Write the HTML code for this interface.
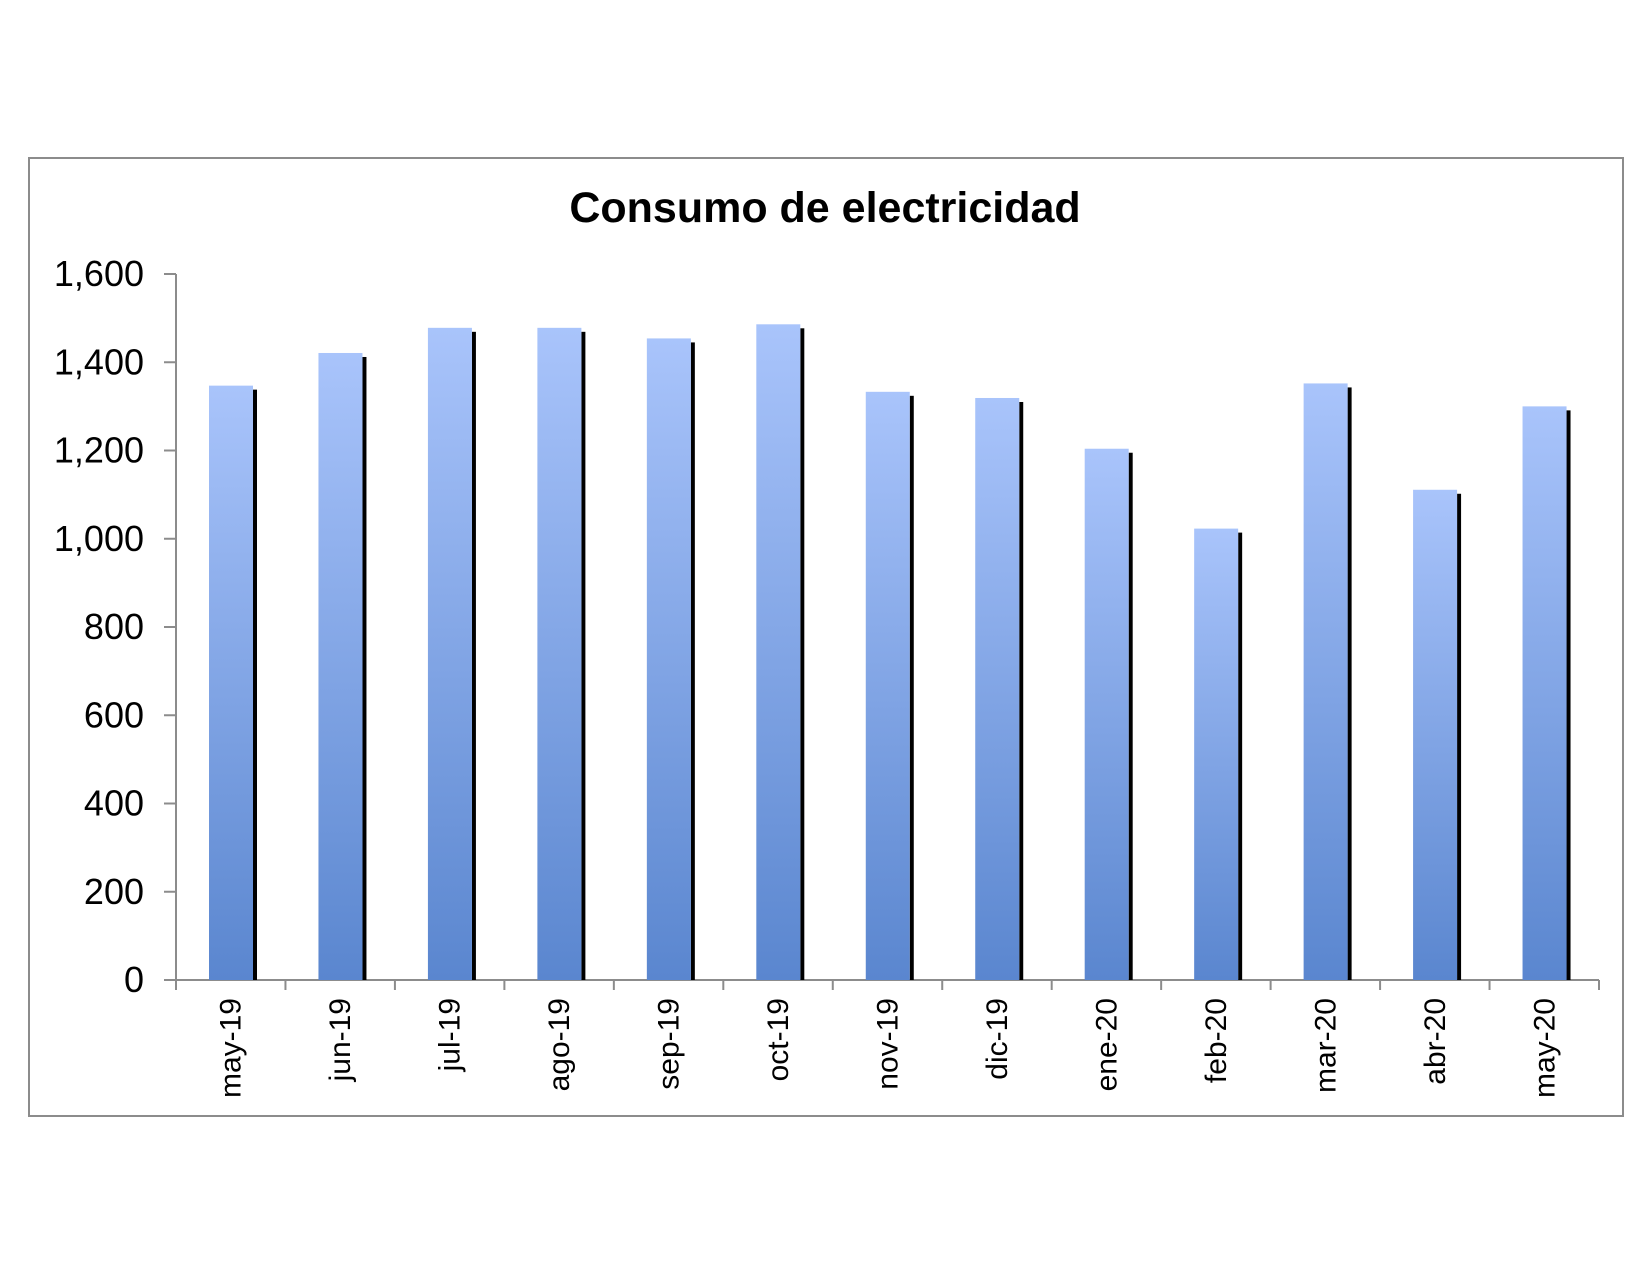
<!DOCTYPE html>
<html><head><meta charset="utf-8"><style>
body{margin:0;background:#fff;}
svg{display:block;font-family:"Liberation Sans",Arial,sans-serif;}
</style></head><body>
<svg id="chart" width="1650" height="1275" viewBox="0 0 1650 1275">
<defs><linearGradient id="bg" x1="0" y1="0" x2="0" y2="1"><stop offset="0" stop-color="#a9c4fb"/><stop offset="1" stop-color="#5a86cf"/></linearGradient></defs>
<rect x="29" y="158" width="1594" height="958" fill="#fff" stroke="#8c8c8c" stroke-width="2"/>
<text x="825" y="222" text-anchor="middle" font-size="43" font-weight="bold">Consumo de electricidad</text>
<g id="plot"></g>
</svg>
<script>
const categories=["may-19","jun-19","jul-19","ago-19","sep-19","oct-19","nov-19","dic-19","ene-20","feb-20","mar-20","abr-20","may-20"];
const values=[1347,1421,1478,1478,1454,1486,1333,1319,1204,1023,1352,1111,1300];
const yTicks=[0,200,400,600,800,1000,1200,1400,1600];
const yTickLabels=["0","200","400","600","800","1,000","1,200","1,400","1,600"];
const NS="http://www.w3.org/2000/svg";
const g=document.getElementById('plot');
const x0=176,x1=1599,y0=980,yTop=274,yMax=1600;
const bw=(x1-x0)/categories.length;
function y(v){return y0-(v/yMax)*(y0-yTop);}
function xc(i){return x0+i*bw;}
function mk(t,a){const e=document.createElementNS(NS,t);for(const k in a)e.setAttribute(k,a[k]);g.appendChild(e);return e;}
let ax=mk('line',{x1:x0,y1:yTop,x2:x0,y2:y0,stroke:'#8c8c8c','stroke-width':2});


yTicks.forEach((v,i)=>{
 const t=mk('line',{x1:x0-12,y1:y(v),x2:x0,y2:y(v),stroke:'#8c8c8c','stroke-width':2});
 
 
 const l=mk('text',{x:x0-32,y:y(v)+12,'text-anchor':'end','font-size':36});
 l.textContent=yTickLabels[i];
 
 
});
let xa=mk('line',{x1:x0,y1:y0,x2:x1,y2:y0,stroke:'#8c8c8c','stroke-width':2});


for(let i=0;i<=categories.length;i++){
 const t=mk('line',{x1:xc(i),y1:y0,x2:xc(i),y2:y0+10,stroke:'#8c8c8c','stroke-width':2});
 
 
}
categories.forEach((c,i)=>{
 const bx=xc(i)+33, top=y(values[i]);
 const s=mk('rect',{x:bx+44,y:top+4,width:4,height:y0-top-4,fill:'#000'});
 
 
 const b=mk('rect',{x:bx,y:top,width:44,height:y0-top,fill:'url(#bg)'});
 
 
 const cx=xc(i)+bw/2+10;
 const l=mk('text',{x:0,y:0,'text-anchor':'end','font-size':30,transform:`translate(${cx},998) rotate(-90)`});
 l.textContent=c;
 
 
});
</script>
</body></html>
